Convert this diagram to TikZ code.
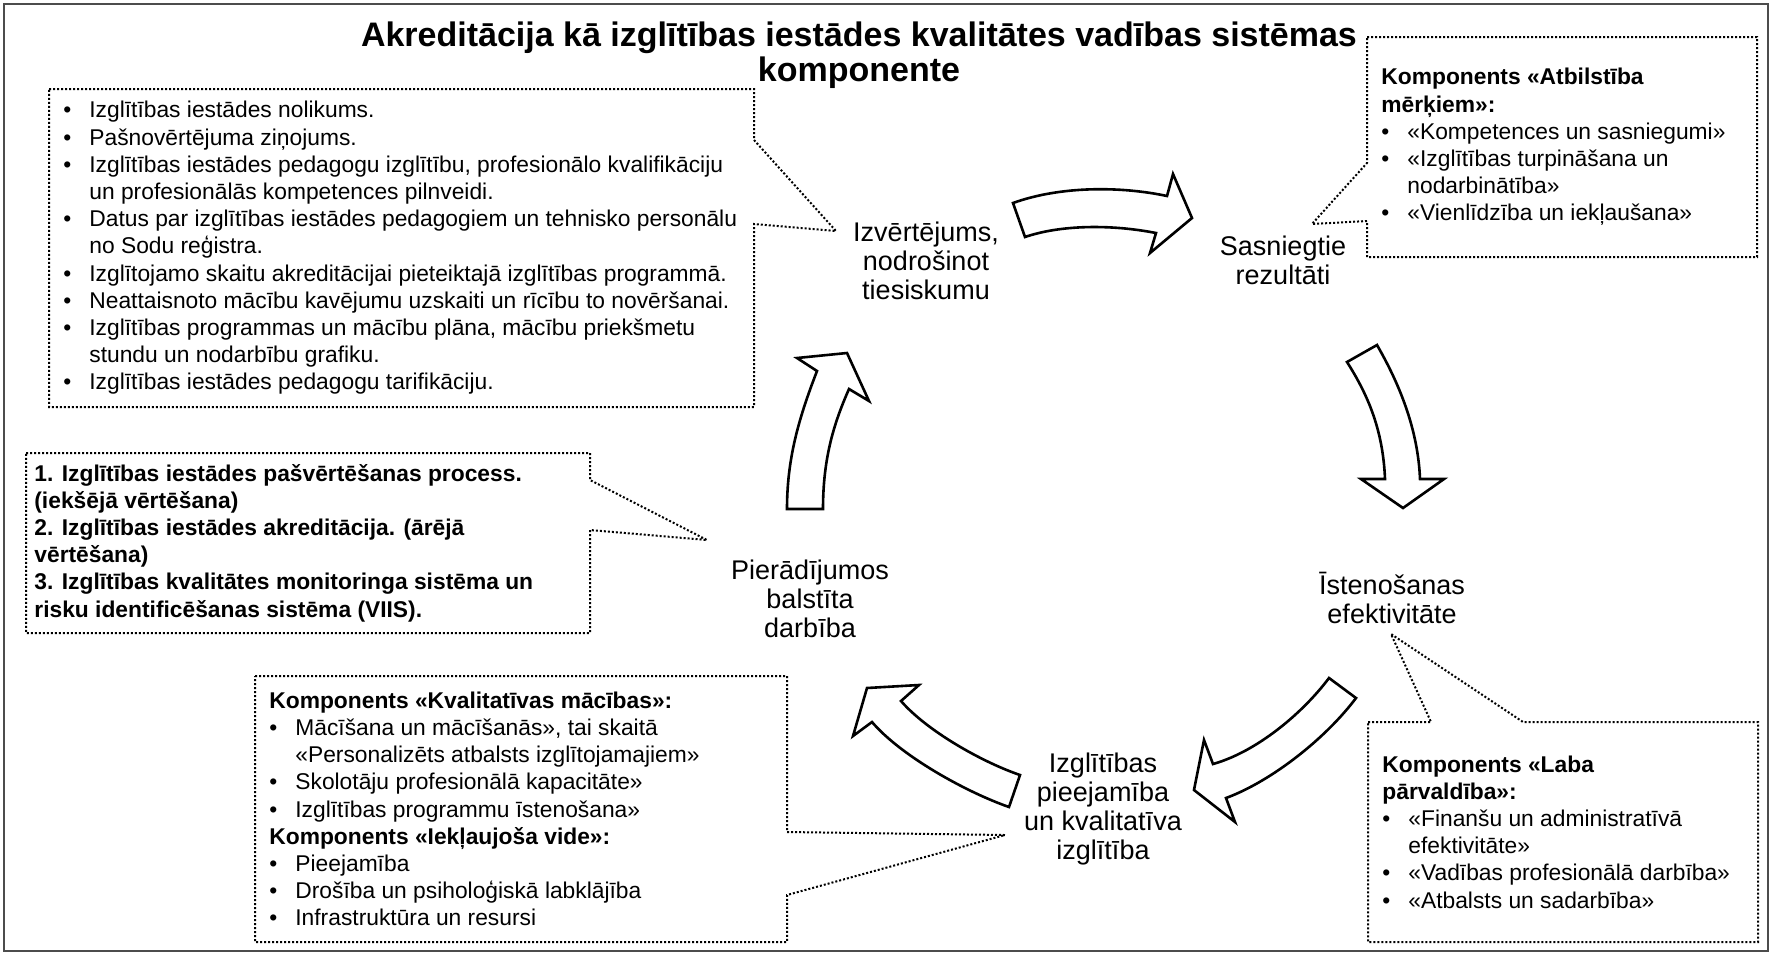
\documentclass[tikz,border=0pt]{standalone}
\usepackage{fontspec}
\setmainfont{Liberation Sans}
\usetikzlibrary{calc}

\newcommand{\bul}{\makebox[13pt][l]{\textbullet}}
\newcommand{\ind}{\hspace*{13pt}}

\begin{document}
\begin{tikzpicture}[x=0.5pt,y=-0.5pt,
    boxarea/.style={rectangle,inner sep=0pt,outer sep=0pt,anchor=north west},
    boxtext/.style={anchor=west,align=left,inner xsep=7pt,inner ysep=0pt,
      font=\fontsize{11.4}{13.6}\selectfont},
    steplabel/.style={align=center,font=\fontsize{13.5}{14.6}\selectfont},
    callout/.style={draw=black,line width=1pt,dash pattern=on 1pt off 1pt},
    blockarrow/.style={draw=black,fill=white,line width=1.3pt,line join=miter}]

	\useasboundingbox (0,0) rectangle (1772,955);
	\draw[black!70,line width=1pt] (4,4) rectangle (1768,951);

	% title
	\node[align=center,font=\fontsize{17}{17.5}\selectfont\bfseries] (title) at (859,55)
		{Akreditācija kā izglītības iestādes kvalitātes vadības sistēmas\\komponente};

	% cycle labels
	\node[steplabel] (izv) at (926,261) {Izvērtējums,\\nodrošinot\\tiesiskumu};
	\node[steplabel] (sasn) at (1283,260) {Sasniegtie\\rezultāti};
	\node[steplabel] (ist) at (1392,598) {Īstenošanas\\efektivitāte};
	\node[steplabel] (piee) at (1103,809) {Izglītības\\pieejamība\\un kvalitatīva\\izglītība};
	\node[steplabel] (pier) at (810,599) {Pierādījumos\\balstīta\\darbība};

	% block arrows
	\draw[blockarrow] (1013,203) .. controls (1060,186) and (1120,186) .. (1167,196)
		-- (1173,174) -- (1192,218) -- (1150,253) -- (1156,233)
		.. controls (1110,224) and (1060,225) .. (1025,237) -- cycle;
	\draw[blockarrow] (1347,362) -- (1377,345) .. controls (1400,385) and (1418,430) .. (1420,479)
		-- (1444,479) -- (1403,508) -- (1361,479) -- (1385,479)
		.. controls (1383,430) and (1368,395) .. (1347,362) -- cycle;
	\draw[blockarrow] (1329,678) -- (1356,698) .. controls (1326,738) and (1272,781) .. (1226,798)
		-- (1235,822) -- (1194,790) -- (1204,740) -- (1213,764)
		.. controls (1256,752) and (1302,714) .. (1329,678) -- cycle;
	\draw[blockarrow] (1020,775) .. controls (982,762) and (927,731) .. (901,701)
		-- (919,685) -- (867,688) -- (853,736) -- (872,722)
		.. controls (901,756) and (966,792) .. (1009,807) -- cycle;
	\draw[blockarrow] (787,509) -- (823,509) .. controls (823,460) and (833,425) .. (849,389)
		-- (869,401) -- (847,353) -- (797,358) -- (817,371)
		.. controls (798,420) and (787,460) .. (787,509) -- cycle;

	% callout tips
	\coordinate (tip1) at (836,231);
	\coordinate (tip2) at (1312,224);
	\coordinate (tip3) at (707,540);
	\coordinate (tip4) at (1005,835);
	\coordinate (tip5) at (1391,634);

	% boxes
	\node[boxarea,minimum width=352.5pt,minimum height=159pt] (b1) at (49,89) {};
	\node[boxtext] (t1) at (b1.west) {%
		\bul Izglītības iestādes nolikums.\\
		\bul Pašnovērtējuma ziņojums.\\
		\bul Izglītības iestādes pedagogu izglītību, profesionālo kvalifikāciju\\
		\ind un profesionālās kompetences pilnveidi.\\
		\bul Datus par izglītības iestādes pedagogiem un tehnisko personālu\\
		\ind no Sodu reģistra.\\
		\bul Izglītojamo skaitu akreditācijai pieteiktajā izglītības programmā.\\
		\bul Neattaisnoto mācību kavējumu uzskaiti un rīcību to novēršanai.\\
		\bul Izglītības programmas un mācību plāna, mācību priekšmetu\\
		\ind stundu un nodarbību grafiku.\\
		\bul Izglītības iestādes pedagogu tarifikāciju.};
	\draw[callout] (b1.north west) -- (b1.north east) -- ($(b1.north east)+(0,51)$) -- (tip1)
		-- ($(b1.north east)+(0,135)$) -- (b1.south east) -- (b1.south west) -- cycle;

	\node[boxarea,minimum width=195pt,minimum height=110pt] (b2) at (1367,37) {};
	\node[boxtext] (t2) at (b2.west) {%
		\textbf{Komponents «Atbilstība}\\
		\textbf{mērķiem»:}\\
		\bul «Kompetences un sasniegumi»\\
		\bul «Izglītības turpināšana un\\
		\ind nodarbinātība»\\
		\bul «Vienlīdzība un iekļaušana»};
	\draw[callout] (b2.north west) -- (b2.north east) -- (b2.south east) -- (b2.south west)
		-- ($(b2.south west)+(0,-36)$) -- (tip2) -- ($(b2.north west)+(0,126)$) -- cycle;

	\node[boxarea,minimum width=282pt,minimum height=90pt] (b3) at (26,453) {};
	\node[boxtext,inner xsep=4pt,font=\fontsize{11.4}{13.6}\selectfont\bfseries] (t3) at (b3.west) {%
		1. Izglītības iestādes pašvērtēšanas process.\\
		(iekšējā vērtēšana)\\
		2. Izglītības iestādes akreditācija. (ārējā\\
		vērtēšana)\\
		3. Izglītības kvalitātes monitoringa sistēma un\\
		risku identificēšanas sistēma (VIIS).};
	\draw[callout] (b3.north west) -- (b3.north east) -- ($(b3.north east)+(0,27)$) -- (tip3)
		-- ($(b3.north east)+(0,77)$) -- (b3.south east) -- (b3.south west) -- cycle;

	\node[boxarea,minimum width=266pt,minimum height=133pt] (b4) at (255,676) {};
	\node[boxtext] (t4) at (b4.west) {%
		\textbf{Komponents «Kvalitatīvas mācības»:}\\
		\bul Mācīšana un mācīšanās», tai skaitā\\
		\ind «Personalizēts atbalsts izglītojamajiem»\\
		\bul Skolotāju profesionālā kapacitāte»\\
		\bul Izglītības programmu īstenošana»\\
		\textbf{Komponents «Iekļaujoša vide»:}\\
		\bul Pieejamība\\
		\bul Drošība un psiholoģiskā labklājība\\
		\bul Infrastruktūra un resursi};
	\draw[callout] (b4.north west) -- (b4.north east) -- ($(b4.north east)+(0,156)$) -- (tip4)
		-- ($(b4.north east)+(0,219)$) -- (b4.south east) -- (b4.south west) -- cycle;

	\node[boxarea,minimum width=195pt,minimum height=110pt] (b5) at (1368,722) {};
	\node[boxtext] (t5) at (b5.west) {%
		\textbf{Komponents «Laba}\\
		\textbf{pārvaldība»:}\\
		\bul «Finanšu un administratīvā\\
		\ind efektivitāte»\\
		\bul «Vadības profesionālā darbība»\\
		\bul «Atbalsts un sadarbība»};
	\draw[callout] (b5.north west) -- ($(b5.north west)+(63,0)$) -- (tip5)
		-- ($(b5.north west)+(155,0)$) -- (b5.north east) -- (b5.south east)
		-- (b5.south west) -- cycle;
\end{tikzpicture}
\end{document}
